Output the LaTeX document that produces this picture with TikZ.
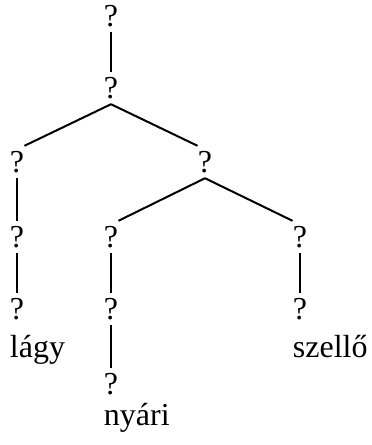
\documentclass[tikz,border=0pt]{standalone}
\usepackage{fontspec}
\setmainfont{Liberation Serif}
\usepackage{tikz}
\usetikzlibrary{positioning}
\tikzset{qm/.style={inner xsep=0pt,inner ysep=2.5pt,font=\fontsize{16}{20}\selectfont},word/.style={inner sep=0pt,anchor=base west,font=\fontsize{16}{20}\selectfont},edge/.style={line width=1pt,draw=black}}
\begin{document}
\begin{tikzpicture}[x=0.5pt,y=-0.5pt]
\useasboundingbox (0,0) rectangle (371,445);
\node[qm] (top) at (111,16) {?};
\node[qm] (root) at (111,88) {?};
\node[qm] (l1) at (17,162) {?};
\node[qm] (r1) at (205,162) {?};
\node[qm] (l2) at (17,237) {?};
\node[qm] (m2) at (111,237) {?};
\node[qm] (s2) at (300,237) {?};
\node[qm] (l3) at (17,309) {?};
\node[qm] (m3) at (111,309) {?};
\node[qm] (s3) at (300,309) {?};
\node[qm] (m4) at (111,384) {?};
\node[word] (lagy) at (l3.west |- 0,357) {lágy};
\node[word] (szello) at (s3.west |- 0,357) {szellő};
\node[word] (nyari) at (m4.west |- 0,425) {nyári};
\draw[edge] (top.south)--(root.north);\draw[edge] (root.south)--(l1.north east);\draw[edge] (root.south)--(r1.north west);
\draw[edge] (l1.south)--(l2.north);\draw[edge] (l2.south)--(l3.north);
\draw[edge] (r1.south)--(m2.north east);\draw[edge] (r1.south)--(s2.north west);
\draw[edge] (m2.south)--(m3.north);\draw[edge] (m3.south)--(m4.north);\draw[edge] (s2.south)--(s3.north);
\end{tikzpicture}
\end{document}
